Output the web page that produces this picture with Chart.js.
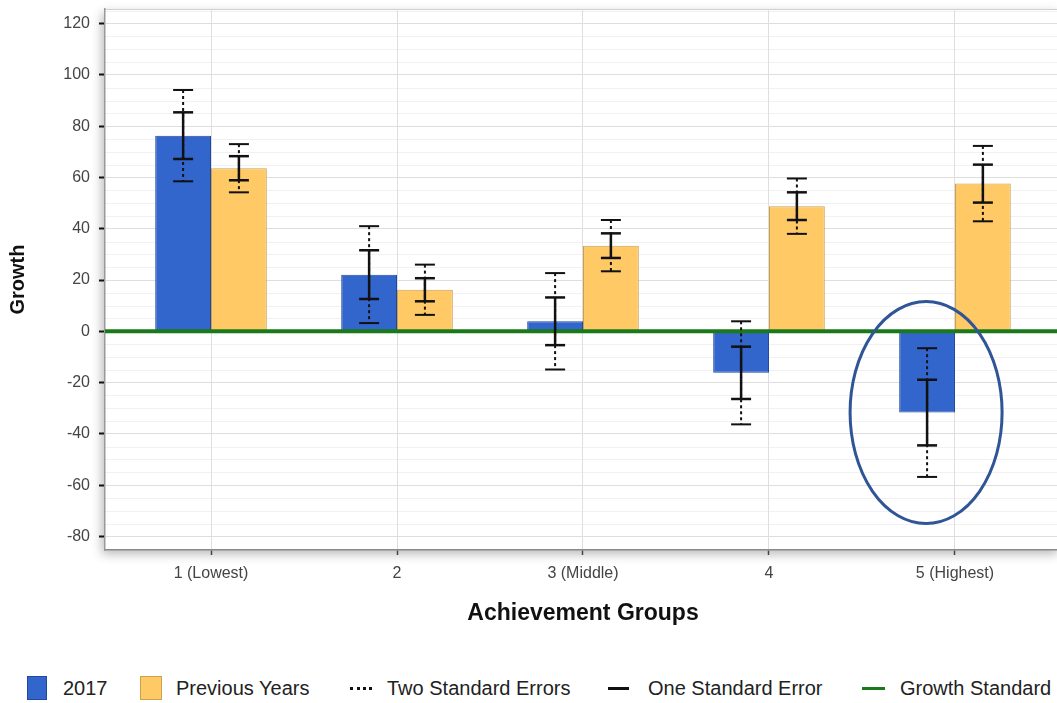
<!DOCTYPE html>
<html><head><meta charset="utf-8">
<script src="https://cdn.jsdelivr.net/npm/chart.js@4/dist/chart.umd.min.js"></script>
<style>
html,body{margin:0;padding:0;background:#fff;overflow:hidden;width:1057px;height:703px;}
#wrap{position:relative;width:1057px;height:703px;overflow:hidden;}
#c{position:absolute;left:0;top:0;}
.lg{position:absolute;font-family:"Liberation Sans",Arial,sans-serif;font-size:20px;color:#222;line-height:24px;top:676px;white-space:nowrap;}
.box{position:absolute;top:676px;width:20px;height:24px;box-sizing:border-box;}
.ln{position:absolute;top:687px;height:0;}
</style></head>
<body>
<div id="wrap">
<canvas id="c" width="1061" height="640"></canvas>
<div class="box" style="left:27px;background:#3366cc;border:1px solid #22479c;"></div>
<div class="lg" style="left:63px;">2017</div>
<div class="box" style="left:140px;width:22px;background:#ffc966;border:1px solid #c9a052;"></div>
<div class="lg" style="left:176px;">Previous Years</div>
<div class="ln" style="left:350px;width:22px;border-top:3px dotted #111;"></div>
<div class="lg" style="left:387px;">Two Standard Errors</div>
<div class="ln" style="left:608px;width:21px;border-top:3px solid #111;"></div>
<div class="lg" style="left:648px;">One Standard Error</div>
<div class="ln" style="left:862px;width:23px;border-top:3px solid #1a7a1a;"></div>
<div class="lg" style="left:900px;">Growth Standard</div>
</div>
<script>
const categories = ['1 (Lowest)', '2', '3 (Middle)', '4', '5 (Highest)'];
const xPos = [1, 2, 3, 4, 5];
const growth2017 = [76.3, 22.1, 3.9, -16.2, -31.7];
const growthPrev = [63.6, 16.2, 33.4, 48.8, 57.6];
const oneSE2017 = [9.1, 9.5, 9.3, 10.2, 12.8];
const twoSE2017 = [17.8, 18.9, 18.8, 20.1, 25.1];
const oneSEPrev = [4.7, 4.5, 4.8, 5.4, 7.4];
const twoSEPrev = [9.4, 9.8, 10.0, 10.8, 14.7];
const growthStandard = 0;
const yTicks = [-80, -60, -40, -20, 0, 20, 40, 60, 80, 100, 120];
const xMin = 0.43, xMax = 5.57;
const yMin = -85.3, yMax = 125.7;
const highlightIndex = 4;

const FONT = '"Liberation Sans", Arial, sans-serif';

const framePlugin = {
  id: 'frame',
  beforeDraw(chart) {
    const {ctx, chartArea: a} = chart;
    const y = chart.scales.y;
    ctx.save();
    ctx.shadowColor = 'rgba(0,0,0,0.28)';
    ctx.shadowBlur = 10;
    ctx.shadowOffsetX = -3;
    ctx.shadowOffsetY = 4;
    ctx.fillStyle = '#fff';
    ctx.fillRect(a.left, a.top, a.right - a.left, a.bottom - a.top);
    ctx.restore();
    ctx.save();
    ctx.strokeStyle = '#f1f1f1';
    ctx.lineWidth = 1;
    for (let v = -85; v <= 125; v += 5) {
      if (v % 20 === 0) continue;
      const py = Math.round(y.getPixelForValue(v)) + 0.5;
      if (py < a.top || py > a.bottom) continue;
      ctx.beginPath(); ctx.moveTo(a.left, py); ctx.lineTo(a.right, py); ctx.stroke();
    }
    ctx.strokeStyle = '#cfcfcf';
    ctx.beginPath(); ctx.moveTo(a.left, a.top + 0.5); ctx.lineTo(a.right, a.top + 0.5); ctx.stroke();
    ctx.restore();
  }
};

const errorBarPlugin = {
  id: 'errorBars',
  afterDatasetsDraw(chart) {
    const ctx = chart.ctx, y = chart.scales.y;
    const sets = [[0, growth2017, oneSE2017, twoSE2017], [1, growthPrev, oneSEPrev, twoSEPrev]];
    const cap = 10;
    ctx.save();
    ctx.strokeStyle = '#111';
    const seg = (x1, y1, x2, y2) => { ctx.beginPath(); ctx.moveTo(x1, y1); ctx.lineTo(x2, y2); ctx.stroke(); };
    sets.forEach(([di, vals, se1, se2]) => {
      const meta = chart.getDatasetMeta(di);
      meta.data.forEach((bar, i) => {
        const x = bar.x;
        const t2 = y.getPixelForValue(vals[i] + se2[i]);
        const b2 = y.getPixelForValue(vals[i] - se2[i]);
        const t1 = y.getPixelForValue(vals[i] + se1[i]);
        const b1 = y.getPixelForValue(vals[i] - se1[i]);
        ctx.lineWidth = 2;
        ctx.setLineDash([3, 3]);
        seg(x, t2, x, b2);
        ctx.setLineDash([]);
        seg(x - cap, t2, x + cap, t2);
        seg(x - cap, b2, x + cap, b2);
        ctx.lineWidth = 2.5;
        seg(x, t1, x, b1);
        seg(x - cap, t1, x + cap, t1);
        seg(x - cap, b1, x + cap, b1);
      });
    });
    ctx.restore();
  },
  afterDraw(chart) {
    const ctx = chart.ctx, y = chart.scales.y;
    const bar = chart.getDatasetMeta(0).data[highlightIndex];
    const cy = y.getPixelForValue(growth2017[highlightIndex]);
    ctx.save();
    ctx.strokeStyle = '#2f5597';
    ctx.lineWidth = 3;
    ctx.beginPath();
    ctx.ellipse(bar.x - 1, cy, 76, 111, 0, 0, Math.PI * 2);
    ctx.stroke();
    ctx.restore();
  }
};

new Chart(document.getElementById('c'), {
  type: 'bar',
  data: {
    datasets: [
      {
        label: '2017',
        data: xPos.map((x, i) => ({x, y: growth2017[i]})),
        backgroundColor: '#3366cc', borderColor: '#22479c', borderWidth: 1,
        categoryPercentage: 0.6, barPercentage: 1.0, order: 1
      },
      {
        label: 'Previous Years',
        data: xPos.map((x, i) => ({x, y: growthPrev[i]})),
        backgroundColor: '#ffc966', borderColor: '#c9a052', borderWidth: 1,
        categoryPercentage: 0.6, barPercentage: 1.0, order: 1
      },
      {
        type: 'line', label: 'Growth Standard',
        data: [{x: xMin, y: growthStandard}, {x: xMax, y: growthStandard}],
        borderColor: '#1a7a1a', borderWidth: 4, pointRadius: 0, order: 0
      }
    ]
  },
  options: {
    responsive: false, animation: false,
    layout: {padding: {top: 9, left: 0, right: 0, bottom: 0}},
    plugins: {legend: {display: false}, tooltip: {enabled: false}},
    scales: {
      x: {
        type: 'linear', min: xMin, max: xMax, offset: false,
        grid: {offset: false, color: '#dedede', lineWidth: 1, drawTicks: true, tickLength: 5, tickColor: '#444', tickWidth: 1.5},
        border: {color: '#8a8a8a', width: 1.5},
        afterBuildTicks: s => { s.ticks = xPos.map(v => ({value: v})); },
        ticks: {
          callback: v => categories[xPos.indexOf(v)],
          font: {family: FONT, size: 16}, color: '#444', padding: 9, maxRotation: 0, autoSkip: false
        },
        title: {display: true, text: 'Achievement Groups', font: {family: FONT, size: 23, weight: 'bold'}, color: '#111', padding: {top: 0, bottom: 13}},
        afterFit: s => { s.height = 90; s.paddingLeft = 0; s.paddingRight = 0; }
      },
      y: {
        min: yMin, max: yMax,
        afterBuildTicks: s => { s.ticks = yTicks.map(v => ({value: v})); },
        grid: {color: '#dedede', lineWidth: 1, tickColor: '#111', tickWidth: 2, tickLength: 6},
        border: {color: '#999', width: 1.5},
        ticks: {font: {family: FONT, size: 16}, color: '#444', padding: 9},
        title: {display: true, text: 'Growth', font: {family: FONT, size: 20, weight: 'bold'}, color: '#111', padding: {top: 6, bottom: 0}},
        afterFit: s => { s.width = 105; s.paddingTop = 0; s.paddingBottom = 0; }
      }
    }
  },
  plugins: [framePlugin, errorBarPlugin]
});
</script>
</body></html>
